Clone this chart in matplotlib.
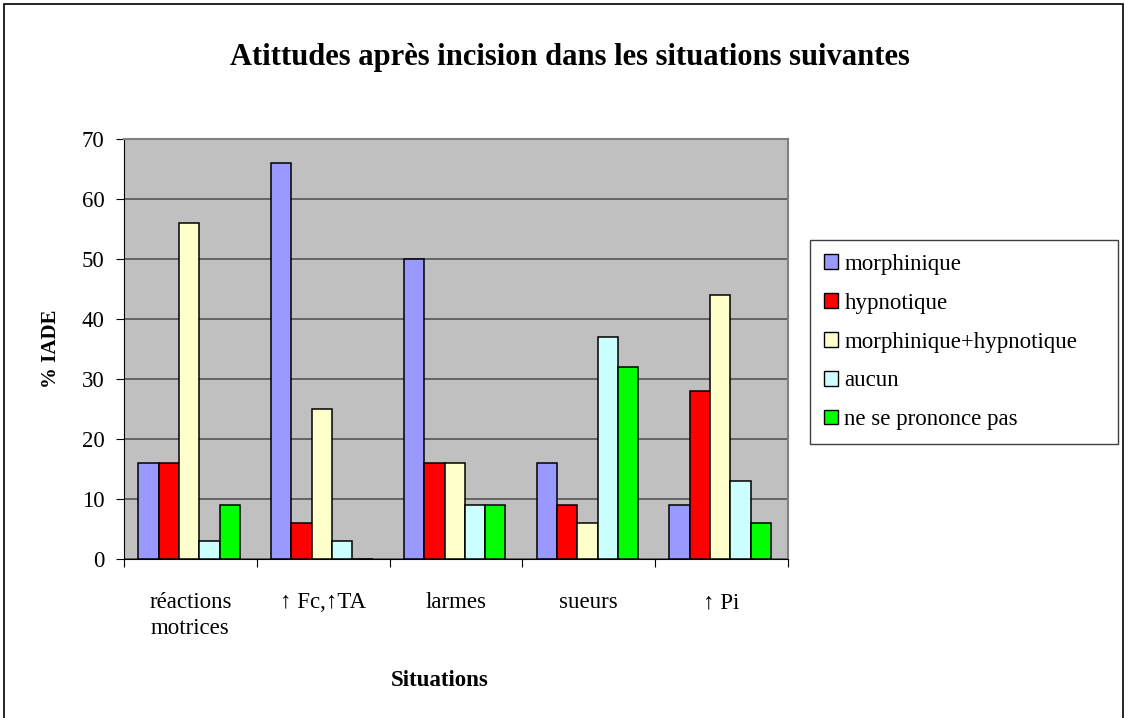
import matplotlib
matplotlib.use("Agg")
import matplotlib.pyplot as plt
import numpy as np
from matplotlib.patches import Rectangle

situations = ["réactions\nmotrices", "↑ Fc,↑TA", "larmes", "sueurs", "↑ Pi"]
series_names = ["morphinique", "hypnotique", "morphinique+hypnotique",
                "aucun", "ne se prononce pas"]
morphinique = [16, 66, 50, 16, 9]
hypnotique = [16, 6, 16, 9, 28]
morph_hypno = [56, 25, 16, 6, 44]
aucun = [3, 3, 9, 37, 13]
ne_se_prononce = [9, 0, 9, 32, 6]
colors = ["#9999FF", "#FF0000", "#FFFFCC", "#CCFFFF", "#00FF00"]

plt.rcParams['font.family'] = ['Liberation Serif', 'DejaVu Serif']

fig = plt.figure(figsize=(11.25, 7.18), dpi=100)
ax = fig.add_axes([124 / 1125, 159 / 718, 664 / 1125, 420 / 718])
ax.set_facecolor("#C0C0C0")

values = [morphinique, hypnotique, morph_hypno, aucun, ne_se_prononce]
x = np.arange(len(situations))
w = 0.153
for i, (vals, name, c) in enumerate(zip(values, series_names, colors)):
    offs = (i - 2) * w - 0.01
    ax.bar(x + offs, vals, width=w, color=c, edgecolor="black",
           linewidth=1.1, label=name, zorder=3)

ax.set_xlim(-0.5, 4.5)
ax.set_ylim(0, 70)
ax.set_yticks(range(0, 71, 10))
ax.yaxis.grid(True, color="#555555", linewidth=1.2, zorder=0)
ax.set_axisbelow(True)

# category boundaries carry the tick marks, labels sit at centres
ax.set_xticks(np.arange(-0.5, 5, 1))
ax.set_xticklabels([])
ax.set_xticks(x, minor=True)
ax.set_xticklabels(situations, minor=True, fontsize=16.5, linespacing=1.3)
ax.tick_params(axis="x", which="minor", length=0, pad=24)
ax.tick_params(axis="x", which="major", length=6, direction="out")
ax.tick_params(axis="y", labelsize=16.5, length=6, direction="out", pad=8)

for s in ["top", "right"]:
    ax.spines[s].set_color("#808080")
    ax.spines[s].set_linewidth(1.5)
ax.spines["left"].set_color("black")
ax.spines["bottom"].set_color("black")

ax.set_ylabel("% IADE", fontsize=15, fontweight="bold", va="center")
ax.yaxis.set_label_coords((51 - 124) / 664, 0.5)
ax.set_xlabel("Situations", fontsize=16.5, fontweight="bold", va="center")
ax.xaxis.set_label_coords((440 - 124) / 664, (559 - 680) / 420)

fig.text(570 / 1125, 1 - 57 / 718, "Atittudes après incision dans les situations suivantes",
         ha="center", va="center", fontsize=22, fontweight="bold")

leg = fig.legend(loc="upper left",
                 bbox_to_anchor=(810 / 1125, 1 - 452 / 718, 308 / 1125, 212 / 718),
                 mode="expand", fontsize=16.5, handlelength=0.6, handleheight=0.6,
                 handletextpad=0.3, labelspacing=0.78, borderpad=0.6,
                 fancybox=False, framealpha=1, borderaxespad=0)
leg.get_frame().set_edgecolor("#404040")
leg.get_frame().set_linewidth(1.0)
for h in leg.legend_handles:
    h.set_linewidth(1.0)

# outer chart frame
fig.patches.append(Rectangle((4 / 1125, -0.05), 1119 / 1125, 1.05 - 4 / 718,
                             transform=fig.transFigure, fill=False,
                             edgecolor="black", linewidth=1.2))

fig.savefig("out.png", dpi=100)
